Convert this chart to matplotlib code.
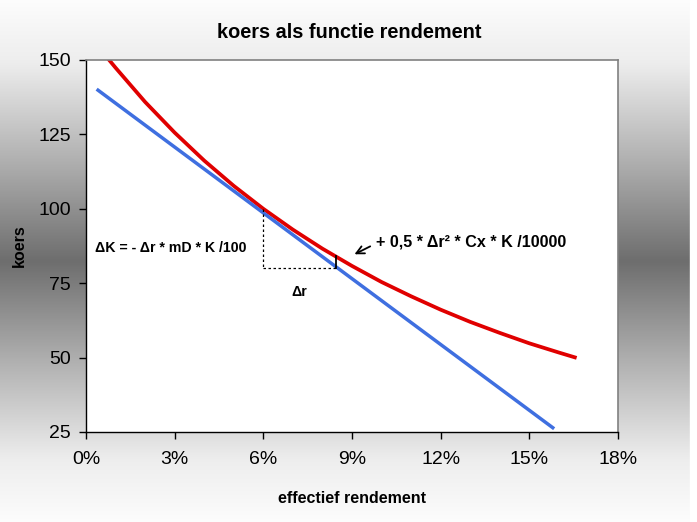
import numpy as np
import matplotlib
matplotlib.use("Agg")
import matplotlib.pyplot as plt
from matplotlib.colors import LinearSegmentedColormap
from matplotlib.ticker import FuncFormatter

plt.rcParams['font.family'] = ['Liberation Sans', 'DejaVu Sans']

# rendement (%) en koers van de obligatie (rode lijn)
rend = [0.75, 1, 2, 3, 4, 5, 6, 7, 8, 9, 10, 11, 12, 13, 14, 15, 16, 16.6]
koers = [150.4, 147.4, 135.9, 125.6, 116.2, 107.7, 100.0, 93.0, 86.6, 80.8,
         75.4, 70.6, 66.1, 62.0, 58.3, 54.8, 51.7, 49.9]

# raaklijn (blauwe lijn, duration benadering)
rend_lin = [0.36, 15.84]
koers_lin = [140.2, 26.1]

xticks = [0, 3, 6, 9, 12, 15, 18]
yticks = [25, 50, 75, 100, 125, 150]

fig = plt.figure(figsize=(6.97, 5.22), dpi=100)

# grijze achtergrond met verloop
bg = fig.add_axes([0, 0, 1, 1], zorder=-10)
grad_cm = LinearSegmentedColormap.from_list(
    "grijs", [(0, (0.99,) * 3), (0.12, (0.93,) * 3), (0.3, (0.70,) * 3),
              (0.5, (0.43,) * 3), (0.7, (0.70,) * 3), (0.88, (0.93,) * 3),
              (1, (0.99,) * 3)])
bg.imshow(np.linspace(0, 1, 256).reshape(-1, 1), aspect='auto', cmap=grad_cm,
          extent=[0, 1, 0, 1])
bg.axvspan(0.99, 1, color='white')
bg.set_xlim(0, 1)
bg.set_ylim(0, 1)
bg.axis('off')

ax = fig.add_axes([86 / 697, 1 - 432 / 522, 532 / 697, 372 / 522])
ax.set_facecolor('white')

ax.plot(rend, koers, color='#e00000', lw=2.7, solid_capstyle='butt')
ax.plot(rend_lin, koers_lin, color='#3f6fe0', lw=2.5, solid_capstyle='butt')

# hulplijnen
ax.plot([6, 6], [100, 80], color='black', lw=0.9, ls=(0, (2, 2)))
ax.plot([6, 8.47], [80, 80], color='black', lw=0.9, ls=(0, (2, 2)))
ax.plot([8.47, 8.47], [80.2, 84.3], color='black', lw=1.3)

ax.text(0.3, 86.8, "ΔK = - Δr * mD * K /100", fontsize=10.2, fontweight='bold',
        va='center', ha='left')
ax.text(7.2, 72, "Δr", fontsize=10.2, fontweight='bold', va='center', ha='center')
ax.text(9.8, 88.8, "+ 0,5 * Δr² * Cx * K /10000", fontsize=11.6,
        fontweight='bold', va='center', ha='left')
ax.annotate("", xy=(9.0, 84.3), xytext=(9.7, 87.8),
            arrowprops=dict(arrowstyle='->', color='black', lw=1.3,
                            mutation_scale=14))

ax.set_xlim(0, 18)
ax.set_ylim(25, 150)
ax.set_xticks(xticks)
ax.set_yticks(yticks)
ax.xaxis.set_major_formatter(FuncFormatter(lambda v, p: f"{v:.0f}%"))
ax.tick_params(direction='out', length=5, width=1, labelsize=14)
ax.tick_params(axis='x', pad=9)
ax.tick_params(axis='y', pad=6)

for s in ['left', 'bottom']:
    ax.spines[s].set_color('black')
    ax.spines[s].set_linewidth(1)
for s in ['top', 'right']:
    ax.spines[s].set_color('#808080')
    ax.spines[s].set_linewidth(1.2)

ax.set_xlabel("effectief rendement", fontsize=11.5, fontweight='bold', labelpad=16)
ax.set_ylabel("koers", fontsize=11.5, fontweight='bold', labelpad=8)
fig.text(349 / 697, 1 - 33 / 522, "koers als functie rendement", fontsize=14.3,
         fontweight='bold', ha='center', va='center')

fig.savefig("out.png", dpi=100)
